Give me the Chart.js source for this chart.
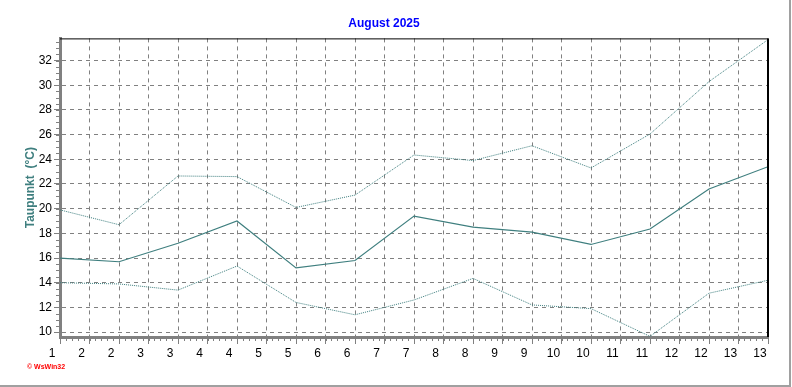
<!DOCTYPE html>
<html>
<head>
<meta charset="utf-8">
<script src="https://cdn.jsdelivr.net/npm/chart.js@4"></script>
<style>
  body { margin: 0; background: #fff; }
  #wrap { position: relative; width: 792px; height: 387px; }
  #copy { position: absolute; left: 27px; top: 363px; font: bold 7px "Liberation Sans", Arial, sans-serif; color: #ff0000; }
</style>
</head>
<body>
<div id="wrap">
  <canvas id="chart" width="792" height="387"></canvas>
  <div id="copy">© WsWin32</div>
</div>
<script>
// Taupunkt August 2025, Tag 1..13
var tage = [1,2,3,4,5,6,7,8,9,10,11,12,13]
var mittel = [16.0,15.7,17.2,19.0,15.2,15.8,19.4,18.5,18.1,17.1,18.35,21.6,23.4]
var maximum = [19.9,18.7,22.65,22.6,20.1,21.1,24.35,23.9,25.1,23.3,26.05,30.3,33.7]
var minimum = [14.0,13.9,13.4,15.35,12.4,11.4,12.6,14.35,12.2,11.9,9.65,13.15,14.2]

// x ticks every half day, labels as in the original
var xTickWerte = [1,1.5,2,2.5,3,3.5,4,4.5,5,5.5,6,6.5,7,7.5,8,8.5,9,9.5,10,10.5,11,11.5,12,12.5,13]
var xTickLabels = ["1","2","2","3","3","4","4","5","5","6","6","7","7","8","8","9","9","10","10","11","11","12","12","13","13"]
var yTickWerte = [10,12,14,16,18,20,22,24,26,28,30,32]

var teal = "#3f7f7f"
var grau = "#808080"

function punkte(werte){
  var p = []
  for (var i = 0; i < tage.length; i++){
    p.push({x: tage[i], y: werte[i]})
  }
  return p
}

// top/right frame, minor ticks, window border
var extras = {
  id: 'extras',
  afterDraw: function(chart){
    var ctx = chart.ctx
    var a = chart.chartArea
    var x = chart.scales.x
    var y = chart.scales.y
    ctx.save()
    ctx.setLineDash([])
    ctx.strokeStyle = grau
    ctx.lineWidth = 1
    ctx.beginPath()
    for (var v = 9.6; v <= 33.8; v += 0.5){
      var py = Math.round(y.getPixelForValue(Math.round(v * 2) / 2)) + 0.5
      if (py < a.top || py > a.bottom) continue
      ctx.moveTo(a.left - 4, py)
      ctx.lineTo(a.left, py)
    }
    for (var k = 0; k <= 120; k++){
      var px = Math.round(x.getPixelForValue(1 + k * 0.1)) + 0.5
      ctx.moveTo(px, a.bottom)
      ctx.lineTo(px, a.bottom + 4)
    }
    ctx.stroke()

    ctx.strokeStyle = "#000"
    ctx.lineWidth = 1
    ctx.beginPath()
    ctx.moveTo(a.left, a.top + 0.5)
    ctx.lineTo(a.right, a.top + 0.5)
    ctx.stroke()
    ctx.lineWidth = 2
    ctx.beginPath()
    ctx.moveTo(a.right, a.top)
    ctx.lineTo(a.right, a.bottom)
    ctx.stroke()

    ctx.strokeStyle = "#a0a0a0"
    ctx.lineWidth = 2
    ctx.beginPath()
    ctx.moveTo(790, 0)
    ctx.lineTo(790, 386)
    ctx.lineTo(0, 386)
    ctx.stroke()
    ctx.restore()
  }
}

var myChart = new Chart(document.getElementById("chart"), {
  type: 'line',
  data: {
    datasets: [
      {
        label: 'Maximum',
        data: punkte(maximum),
        borderColor: teal,
        borderWidth: 1,
        borderDash: [1, 1],
        pointRadius: 0,
        tension: 0
      },
      {
        label: 'Mittel',
        data: punkte(mittel),
        borderColor: teal,
        borderWidth: 1.2,
        pointRadius: 0,
        tension: 0
      },
      {
        label: 'Minimum',
        data: punkte(minimum),
        borderColor: teal,
        borderWidth: 1,
        borderDash: [1, 1],
        pointRadius: 0,
        tension: 0
      }
    ]
  },
  options: {
    responsive: false,
    animation: false,
    layout: { padding: { left: 0, right: 24, top: 0, bottom: 0 } },
    plugins: {
      legend: { display: false },
      tooltip: { enabled: false },
      title: {
        display: true,
        text: 'August 2025',
        color: '#0000ff',
        font: { family: '"Liberation Sans", Arial, sans-serif', size: 12, weight: 'bold' },
        padding: { top: 16, bottom: 8 }
      }
    },
    scales: {
      x: {
        type: 'linear',
        min: 1,
        max: 13,
        afterBuildTicks: function(s){
          s.ticks = xTickWerte.map(function(v){ return {value: v} })
        },
        afterFit: function(s){ s.height = 50 },
        border: { color: grau, width: 3, dash: [4, 4] },
        grid: {
          color: grau,
          tickBorderDash: [1, 0],
          tickColor: grau,
          tickLength: 7
        },
        ticks: {
          color: '#000',
          padding: 2,
          labelOffset: -8,
          maxRotation: 0,
          autoSkip: false,
          font: { family: '"Liberation Sans", Arial, sans-serif', size: 12 },
          callback: function(value, index){ return xTickLabels[index] }
        }
      },
      y: {
        min: 9.6,
        max: 33.8,
        afterBuildTicks: function(s){
          s.ticks = yTickWerte.map(function(v){ return {value: v} })
        },
        afterFit: function(s){ s.width = 60 },
        border: { color: grau, width: 3, dash: [4, 4] },
        grid: {
          color: grau,
          tickBorderDash: [1, 0],
          tickColor: grau,
          tickLength: 6
        },
        ticks: {
          color: '#000',
          padding: 2,
          font: { family: '"Liberation Sans", Arial, sans-serif', size: 12 }
        },
        title: {
          display: true,
          text: 'Taupunkt  (°C)',
          color: teal,
          font: { family: '"Liberation Sans", Arial, sans-serif', size: 12, weight: 'bold' },
          padding: { top: 23, bottom: 0 }
        }
      }
    }
  },
  plugins: [extras]
});
</script>
</body>
</html>
